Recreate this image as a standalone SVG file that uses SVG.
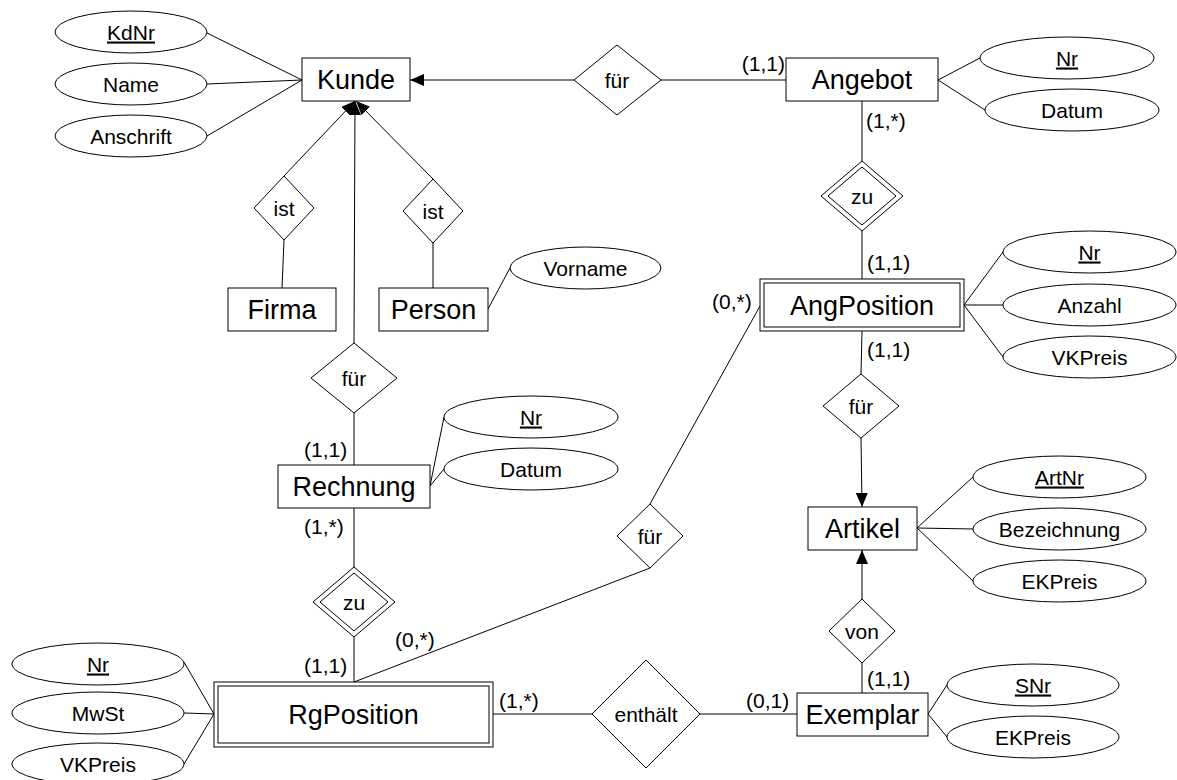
<svg xmlns="http://www.w3.org/2000/svg" width="1177" height="780" viewBox="0 0 1177 780">
<style>
.s{fill:#fff;stroke:#000;stroke-width:1}
.c{fill:none;stroke:#000;stroke-width:1}
text{font-family:"Liberation Sans",Arial,sans-serif;fill:#000}
.e{font-size:27px;text-anchor:middle}
.a{font-size:21px;text-anchor:middle}
.k{text-decoration:underline}
.n{font-size:21px}
.m{text-anchor:middle}
</style>
<defs>
<marker id="ar" markerUnits="userSpaceOnUse" markerWidth="14" markerHeight="12" refX="14" refY="6" orient="auto">
<path d="M0,0 L14,6 L0,12 z" fill="#000"/>
</marker>
</defs>
<rect width="1177" height="780" fill="#fff"/>
<g id="connectors">
<line class="c" x1="207" y1="33" x2="302" y2="80"/>
<line class="c" x1="207" y1="84" x2="302" y2="80"/>
<line class="c" x1="207" y1="136" x2="302" y2="80"/>
<line class="c" x1="574" y1="80" x2="410" y2="80" marker-end="url(#ar)"/>
<line class="c" x1="661" y1="80" x2="786" y2="80"/>
<line class="c" x1="938" y1="80" x2="980" y2="58"/>
<line class="c" x1="938" y1="80" x2="985" y2="110"/>
<line class="c" x1="862" y1="101" x2="862" y2="161"/>
<line class="c" x1="862" y1="231" x2="862" y2="279"/>
<line class="c" x1="964" y1="305" x2="1003" y2="252"/>
<line class="c" x1="964" y1="305" x2="1003" y2="305"/>
<line class="c" x1="964" y1="305" x2="1003" y2="357"/>
<line class="c" x1="862" y1="331" x2="861" y2="374"/>
<line class="c" x1="861" y1="438" x2="862" y2="507" marker-end="url(#ar)"/>
<line class="c" x1="917" y1="528" x2="973" y2="477"/>
<line class="c" x1="917" y1="528" x2="973" y2="529"/>
<line class="c" x1="917" y1="528" x2="973" y2="581"/>
<line class="c" x1="862" y1="599" x2="862" y2="550" marker-end="url(#ar)"/>
<line class="c" x1="862" y1="663" x2="862" y2="693"/>
<line class="c" x1="928" y1="714" x2="947" y2="685"/>
<line class="c" x1="928" y1="714" x2="947" y2="737"/>
<line class="c" x1="284" y1="176" x2="355" y2="101" marker-end="url(#ar)"/>
<line class="c" x1="433" y1="179" x2="356" y2="101" marker-end="url(#ar)"/>
<line class="c" x1="354" y1="343" x2="355" y2="101" marker-end="url(#ar)"/>
<line class="c" x1="284" y1="240" x2="282" y2="288"/>
<line class="c" x1="433" y1="243" x2="433" y2="288"/>
<line class="c" x1="488" y1="309" x2="510" y2="268"/>
<line class="c" x1="354" y1="413" x2="354" y2="465"/>
<line class="c" x1="430" y1="486" x2="444" y2="417"/>
<line class="c" x1="430" y1="486" x2="444" y2="469"/>
<line class="c" x1="354" y1="508" x2="354" y2="567"/>
<line class="c" x1="354" y1="637" x2="354" y2="682"/>
<line class="c" x1="354" y1="682" x2="650" y2="568"/>
<line class="c" x1="650" y1="504" x2="760" y2="306"/>
<line class="c" x1="214" y1="714" x2="184" y2="662"/>
<line class="c" x1="214" y1="714" x2="184" y2="713"/>
<line class="c" x1="214" y1="714" x2="184" y2="764"/>
<line class="c" x1="493" y1="714" x2="592" y2="714"/>
<line class="c" x1="700" y1="714" x2="797" y2="714"/>
</g>
<g id="labels">
<text class="n" x="785" y="71" text-anchor="end">(1,1)</text>
<text class="n" x="866" y="128">(1,*)</text>
<text class="n" x="867" y="270">(1,1)</text>
<text class="n" x="712" y="309">(0,*)</text>
<text class="n" x="867" y="357">(1,1)</text>
<text class="n" x="304" y="457">(1,1)</text>
<text class="n" x="304" y="534">(1,*)</text>
<text class="n" x="304" y="673">(1,1)</text>
<text class="n" x="395" y="647">(0,*)</text>
<text class="n" x="499" y="708">(1,*)</text>
<text class="n" x="746" y="708">(0,1)</text>
<text class="n" x="867" y="686">(1,1)</text>
</g>
<g id="kunde"><rect class="s" x="302" y="58" width="108" height="43"/><text class="e" x="356" y="89">Kunde</text></g>
<g id="kunde-kdnr"><ellipse class="s" cx="131" cy="32" rx="76" ry="21"/><text class="a k" x="131" y="39.5">KdNr</text></g>
<g id="kunde-name"><ellipse class="s" cx="131" cy="84" rx="76" ry="21"/><text class="a" x="131" y="91.5">Name</text></g>
<g id="kunde-anschrift"><ellipse class="s" cx="131" cy="136" rx="76" ry="21"/><text class="a" x="131" y="143.5">Anschrift</text></g>
<g id="fuer-angebot-kunde"><polygon class="s" points="617,45 661,80 617,115 574,80"/><text class="a" x="617" y="87.5">für</text></g>
<g id="angebot"><rect class="s" x="786" y="58" width="152" height="43"/><text class="e" x="862" y="89">Angebot</text></g>
<g id="angebot-nr"><ellipse class="s" cx="1067" cy="58" rx="87" ry="21"/><text class="a k" x="1067" y="65.5">Nr</text></g>
<g id="angebot-datum"><ellipse class="s" cx="1072" cy="110" rx="87" ry="21"/><text class="a" x="1072" y="117.5">Datum</text></g>
<g id="zu-angebot"><polygon class="s" points="862,161 903,196 862,231 821,196"/><polygon class="s" points="862,167 896,196 862,225 828,196"/><text class="a" x="862" y="203.5">zu</text></g>
<g id="ist-firma"><polygon class="s" points="284,176 314,208 284,240 254,208"/><text class="a" x="284" y="215.5">ist</text></g>
<g id="ist-person"><polygon class="s" points="433,179 463,211 433,243 403,211"/><text class="a" x="433" y="218.5">ist</text></g>
<g id="firma"><rect class="s" x="228" y="288" width="108" height="43"/><text class="e" x="282" y="319">Firma</text></g>
<g id="person"><rect class="s" x="379" y="288" width="109" height="43"/><text class="e" x="433.5" y="319">Person</text></g>
<g id="person-vorname"><ellipse class="s" cx="585.5" cy="268" rx="75.5" ry="21"/><text class="a" x="585.5" y="275.5">Vorname</text></g>
<g id="angposition"><rect class="s" x="760" y="279" width="204" height="52"/><rect class="s" x="764" y="283" width="196" height="44"/><text class="e" x="862" y="314.5">AngPosition</text></g>
<g id="angposition-nr"><ellipse class="s" cx="1089.5" cy="252" rx="86.5" ry="21"/><text class="a k" x="1089.5" y="259.5">Nr</text></g>
<g id="angposition-anzahl"><ellipse class="s" cx="1089.5" cy="305" rx="86.5" ry="21"/><text class="a" x="1089.5" y="312.5">Anzahl</text></g>
<g id="angposition-vkpreis"><ellipse class="s" cx="1089.5" cy="357" rx="86.5" ry="21"/><text class="a" x="1089.5" y="364.5">VKPreis</text></g>
<g id="fuer-kunde-rechnung"><polygon class="s" points="354,343 397,378 354,413 311,378"/><text class="a" x="354" y="385.5">für</text></g>
<g id="fuer-angpos-artikel"><polygon class="s" points="861,374 899,406 861,438 823,406"/><text class="a" x="861" y="413.5">für</text></g>
<g id="rechnung"><rect class="s" x="278" y="465" width="152" height="43"/><text class="e" x="354" y="495.5">Rechnung</text></g>
<g id="rechnung-nr"><ellipse class="s" cx="531" cy="417" rx="87" ry="21"/><text class="a k" x="531" y="424.5">Nr</text></g>
<g id="rechnung-datum"><ellipse class="s" cx="531" cy="469" rx="87" ry="21"/><text class="a" x="531" y="476.5">Datum</text></g>
<g id="artikel"><rect class="s" x="808" y="507" width="109" height="43"/><text class="e" x="862.5" y="537.5">Artikel</text></g>
<g id="artikel-artnr"><ellipse class="s" cx="1059.5" cy="477" rx="86.5" ry="21"/><text class="a k" x="1059.5" y="484.5">ArtNr</text></g>
<g id="artikel-bezeichnung"><ellipse class="s" cx="1059.5" cy="529" rx="86.5" ry="21"/><text class="a" x="1059.5" y="536.5">Bezeichnung</text></g>
<g id="artikel-ekpreis"><ellipse class="s" cx="1059.5" cy="581" rx="86.5" ry="21"/><text class="a" x="1059.5" y="588.5">EKPreis</text></g>
<g id="fuer-rgpos-angpos"><polygon class="s" points="650,504 683,536 650,568 617,536"/><text class="a" x="650" y="543.5">für</text></g>
<g id="zu-rechnung"><polygon class="s" points="354,567 395,602 354,637 313,602"/><polygon class="s" points="354,573 388,602 354,631 320,602"/><text class="a" x="354" y="609.5">zu</text></g>
<g id="von"><polygon class="s" points="862,599 895,631 862,663 829,631"/><text class="a" x="862" y="638.5">von</text></g>
<g id="rgposition"><rect class="s" x="214" y="682" width="279" height="65"/><rect class="s" x="218" y="686" width="271" height="57"/><text class="e" x="353.5" y="724">RgPosition</text></g>
<g id="rgposition-nr"><ellipse class="s" cx="98" cy="664" rx="86" ry="21"/><text class="a k" x="98" y="671.5">Nr</text></g>
<g id="rgposition-mwst"><ellipse class="s" cx="98" cy="713" rx="86" ry="21"/><text class="a" x="98" y="720.5">MwSt</text></g>
<g id="rgposition-vkpreis"><ellipse class="s" cx="98" cy="764" rx="86" ry="21"/><text class="a" x="98" y="771.5">VKPreis</text></g>
<g id="enthaelt"><polygon class="s" points="646,660 700,714 646,768 592,714"/><text class="a" x="646" y="721.5">enthält</text></g>
<g id="exemplar"><rect class="s" x="797" y="693" width="131" height="43"/><text class="e" x="862.5" y="724">Exemplar</text></g>
<g id="exemplar-snr"><ellipse class="s" cx="1033" cy="685" rx="86" ry="21"/><text class="a k" x="1033" y="692.5">SNr</text></g>
<g id="exemplar-ekpreis"><ellipse class="s" cx="1033" cy="737" rx="86" ry="21"/><text class="a" x="1033" y="744.5">EKPreis</text></g>
</svg>
